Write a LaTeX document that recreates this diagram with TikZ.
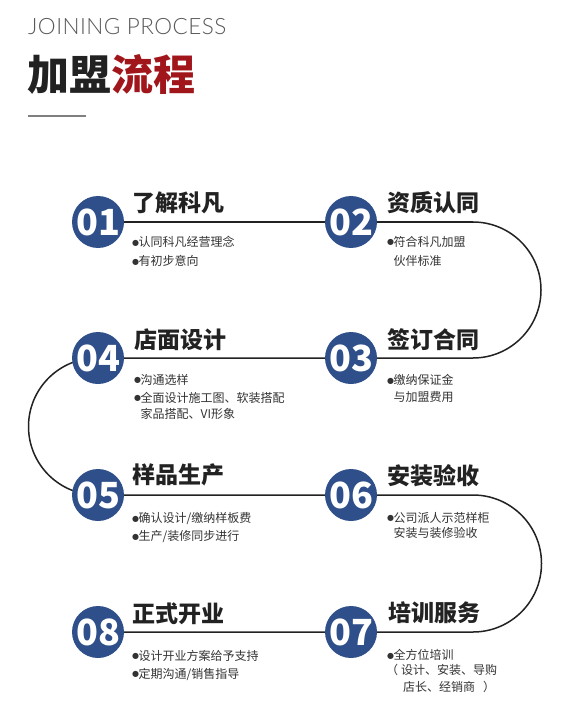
\documentclass[tikz,border=0pt]{standalone}
\usepackage{fontspec}
\setmainfont{Noto Sans CJK SC}
\newfontfamily\hdrfont{Lato Light}[LetterSpace=2]
\newfontfamily\symf{DejaVu Sans}
\definecolor{circblue}{RGB}{46,79,138}
\definecolor{ttlred}{RGB}{160,22,27}
\definecolor{txtgray}{RGB}{51,51,51}
\definecolor{ttlblack}{RGB}{34,34,34}
\newcommand\bul{\makebox[6.5pt][l]{\raisebox{1.6pt}{\symf\fontsize{8}{8}\selectfont ●}}}
\begin{document}
\begin{tikzpicture}[x=1pt,y=-1pt,
  num/.style={circle, fill=circblue, minimum size=52pt, inner sep=0pt, text=white, font=\fontsize{36}{36}\selectfont\bfseries},
  ttl/.style={anchor=west, inner sep=0pt, text=ttlblack, font=\fontsize{23}{23}\selectfont\bfseries},
  txt/.style={anchor=west, inner sep=0pt, text=txtgray, font=\fontsize{12}{12}\selectfont},
  flow/.style={line width=1.5pt, draw=ttlblack}]
\path[fill=white] (0,0) rectangle (586,703);
\useasboundingbox (0,0) rectangle (586,703);

% header
\node[anchor=west, inner sep=0pt, text=black!65] (hdr) at (28,26.5) {\hdrfont\fontsize{22.5}{22.5}\selectfont JOINING PROCESS};
\node[anchor=west, inner sep=0pt, text=ttlblack, font=\fontsize{42}{42}\selectfont\bfseries] (main) at (27,74) {加盟\textcolor{ttlred}{流程}};
\coordinate (ul1) at (28,116);
\coordinate (ul2) at (86,116);
\draw[line width=2pt, draw=black!50] (ul1) -- (ul2);

% circles positions
\coordinate (p1) at (98,222);
\coordinate (p2) at (351,222);
\coordinate (p4) at (98,358);
\coordinate (p3) at (351,358);
\coordinate (p5) at (98,495);
\coordinate (p6) at (351,495);
\coordinate (p8) at (98,632);
\coordinate (p7) at (351,632);
\coordinate (r1e) at (473,222);
\coordinate (r2w) at (97,358);
\coordinate (r3e) at (473,495);

\draw[flow] (p1) -- (r1e) arc[start angle=-90, end angle=90, radius=68]
  -- (r2w) arc[start angle=270, end angle=90, radius=68.5]
  -- (r3e) arc[start angle=-90, end angle=90, radius=68.5] -- (p8);

\node[num] (c1) at (p1) {01};
\node[num] (c2) at (p2) {02};
\node[num] (c3) at (p3) {03};
\node[num] (c4) at (p4) {04};
\node[num] (c5) at (p5) {05};
\node[num] (c6) at (p6) {06};
\node[num] (c7) at (p7) {07};
\node[num] (c8) at (p8) {08};

% titles
\node[ttl] (t1) at (132,202.5) {了解科凡};
\node[ttl] (t2) at (387,202.5) {资质认同};
\node[ttl] (t4) at (134,339.5) {店面设计};
\node[ttl] (t3) at (387,339.5) {签订合同};
\node[ttl] (t5) at (132,475) {样品生产};
\node[ttl] (t6) at (387,476) {安装验收};
\node[ttl] (t8) at (132,614) {正式开业};
\node[ttl] (t7) at (388,613) {培训服务};

% texts
\node[txt] (a1) at (132,242) {\bul 认同科凡经营理念};
\node[txt] (a2) at (132,261) {\bul 有初步意向};
\node[txt] (b1) at (387,242) {\bul 符合科凡加盟};
\node[txt] (b2) at (393.5,261) {伙伴标准};
\node[txt] (d1) at (134,380) {\bul 沟通选样};
\node[txt] (d2) at (134,398) {\bul 全面设计施工图、软装搭配};
\node[txt] (d3) at (140.5,414) {家品搭配、VI形象};
\node[txt] (e1) at (387,380) {\bul 缴纳保证金};
\node[txt] (e2) at (393.5,397) {与加盟费用};
\node[txt] (f1) at (132,519) {\bul 确认设计/缴纳样板费};
\node[txt] (f2) at (132,537) {\bul 生产/装修同步进行};
\node[txt] (g1) at (387,518) {\bul 公司派人示范样柜};
\node[txt] (g2) at (393.5,533) {安装与装修验收};
\node[txt] (h1) at (132,656) {\bul 设计开业方案给予支持};
\node[txt] (h2) at (132,674) {\bul 定期沟通/销售指导};
\node[txt] (k1) at (387,655) {\bul 全方位培训};
\node[txt] (k2) at (386,670) {（\hspace{3pt}设计、安装、导购};
\node[txt] (k3) at (403,687) {店长、经销商\hspace{8pt}）};
\end{tikzpicture}
\end{document}
